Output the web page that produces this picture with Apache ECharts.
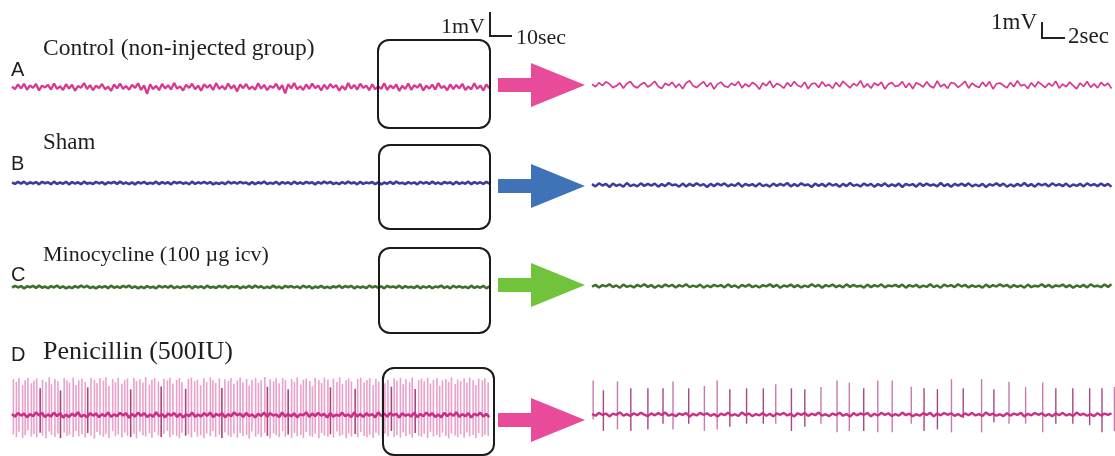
<!DOCTYPE html>
<html><head><meta charset="utf-8">
<script src="https://cdn.jsdelivr.net/npm/echarts@6/dist/echarts.min.js"></script>
<style>html,body{margin:0;padding:0;background:#fff}#c{width:1115px;height:456px}</style>
</head><body><div id="c"></div>
<script>
// ---------- DATA ----------
const panelLetters = ['A', 'B', 'C', 'D'];
const groupNames = ['Control (non-injected group)', 'Sham', 'Minocycline (100 µg icv)', 'Penicillin (500IU)'];
const leftScaleLabels = ['1mV', '10sec'];
const rightScaleLabels = ['1mV', '2sec'];
const leftSpanSec = 207, rightSpanSec = 45;      // time shown in each panel
const leftDtSec = 1.3, rightDtSec = 0.3;         // sample spacing of the typed traces

// amplitudes in µV
const ctrlLeft = [
20,-90,110,-60,140,-120,70,-40,130,-150,60,-20,90,-110,150,-80,30,-130,120,-70,
100,-160,40,-30,170,-90,80,-140,60,-50,130,-100,20,-170,110,-60,150,-80,40,-120,
90,-40,160,-130,70,-300,120,-90,50,-140,130,-60,80,-110,180,-70,30,-150,100,-40,
140,-100,60,-160,120,-30,90,-130,170,-80,40,-110,150,-60,70,-190,110,-50,130,-90,
20,-120,160,-70,90,-140,50,-40,140,-110,80,-280,120,-60,170,-100,30,-130,110,-80,
150,-50,60,-150,100,-90,130,-30,80,-160,40,-120,170,-70,90,-110,140,-40,60,-140,
120,-100,30,-80,160,-130,70,-60,110,-170,50,-90,150,-120,80,-30,130,-150,60,-70,
100,-110,170,-40,40,-140,120,-90,90,-60,140,-130,20,-100,160,-80,70,-150,110,-50];
const ctrlRight = [
55,-110,145,-35,200,70,-160,-55,125,-200,90,215,-70,-180,35,160,-125,20,235,-90,
-215,110,-35,180,-145,70,-235,125,270,-55,-160,35,200,-110,145,-250,55,180,-70,-145,
110,-35,215,-180,70,-110,160,20,-270,125,-55,250,-160,90,-20,-200,145,-90,215,-35,
-125,180,-235,70,110,-160,200,-70,35,-215,160,-110,235,20,-180,90,-55,270,-145,70,
-200,125,-35,180,-250,55,160,-90,-20,215,-160,110,-235,145,35,-125,200,-70,-180,250,
-110,55,-215,160,90,-145,20,235,-200,110,-55,-160,180,-90,215,-250,70,125,-35,-180,
160,-110,270,-55,35,-215,145,-125,200,20,-160,110,-70,235,-200,55,-110,180,-35,-235,
125,-90,215,-145,70,-180,160,-55,110,-215];
const shamLeft = [
20,-40,50,-30,60,-50,30,-20,40,-60,50,-10,30,-50,60,-40,20,-30,50,-60,
40,-20,30,-50,60,-30,10,-40,50,-20,40,-60,30,-10,50,-40,60,-30,20,-50,
30,-60,40,-20,50,-40,10,-30,60,-50,40,-20,30,-60,50,-10,40,-30,20,-50,
60,-40,30,-20,50,-30,40,-60,10,-40,30,-50,60,-20,40,-30,50,-10,20,-60,
40,-50,30,-20,60,-40,10,-30,50,-60,40,-20,30,-50,60,-30,20,-40,50,-10,
30,-60,40,-30,60,-20,50,-40,10,-50,40,-30,60,-20,30,-60,50,-40,20,-10,
40,-50,30,-60,20,-30,50,-40,60,-20,10,-50,40,-30,30,-60,50,-20,40,-40,
60,-30,20,-50,40,-10,30,-60,50,-40,20,-30,60,-50,40,-20,30,-40,50,-30];
const shamRight = [
55,-90,105,-35,70,-125,90,-55,35,-105,125,-70,20,-90,105,-55,70,-35,90,-105,
55,-70,125,-20,35,-105,90,-90,70,-55,105,-35,55,-125,70,-70,90,-20,105,-90,
35,-55,125,-105,70,-35,55,-90,105,-70,20,-105,90,-55,70,-35,125,-90,55,-70,
105,-20,35,-125,90,-55,70,-90,105,-35,55,-105,70,-70,125,-55,20,-90,90,-35,
70,-105,55,-55,105,-90,35,-70,90,-125,70,-20,55,-105,105,-55,90,-35,35,-90,
125,-70,55,-105,70,-35,90,-55,105,-90,20,-70,70,-125,55,-35,105,-55,90,-105,
35,-90,70,-55,125,-70,55,-105,90,-20,70,-90,105,-35,55,-70,
90,-105,35,-55,70,-90,105,-35,55,-70,90,-55,70,-105];
const minoLeft = [
-30,50,-20,40,-60,30,-10,50,-40,60,-30,20,-50,40,-20,60,-40,30,-60,10,
-50,40,-30,60,-20,50,-40,10,-60,30,-20,40,-50,60,-30,20,-40,50,-10,60,
-40,30,-60,20,-50,40,-30,10,-60,50,-20,40,-30,60,-50,20,-40,30,-10,50,
-60,40,-20,30,-50,60,-30,10,-40,50,-20,60,-50,30,-10,40,-60,20,-30,50,
-40,60,-20,30,-50,10,-40,60,-30,20,-60,50,-10,40,-30,30,-50,60,-20,40,
-60,20,-30,50,-40,10,-50,30,-20,60,-40,40,-10,50,-60,30,-30,20,-50,60,
-20,40,-40,30,-60,50,-10,20,-30,60,-50,40,-20,10,-40,50,-60,30,-30,40,
-50,20,-10,60,-40,30,-60,50,-20,40,-30,10,-50,60,-40,20,-30,50,-60,30];
const minoRight = [
-35,70,-90,55,-20,105,-70,35,-105,90,-55,20,-90,70,-35,105,-55,55,-105,35,
-70,90,-20,70,-90,55,-35,105,-70,20,-55,90,-105,35,-70,70,-20,55,-90,105,
-55,35,-105,70,-35,90,-70,20,-90,55,-20,105,-55,70,-105,35,-35,90,-70,55,
-90,20,-55,105,-35,70,-105,55,-20,90,-70,35,-90,105,-55,70,-35,20,-105,90,
-70,55,-35,105,-90,35,-20,70,-55,90,-105,55,-35,70,-90,20,-55,105,-70,35,
-105,90,-20,55,-70,105,-35,70,-90,35,-55,20,-105,90,-70,55,-35,105,-20,70,
-90,55,-55,35,-105,90,-70,20,-35,105,-55,70,-90,35,-20,90,
-70,55,-105,35,-55,70,-90,105,-35,20,-70,90,-55,105];
const penLeftBase = [
50,-80,100,-30,70,-110,40,-60,120,-20,90,-100,30,-70,110,-50,80,-120,20,-90,
60,-40,130,-80,10,-110,90,-30,70,-100,40,-60,120,-90,30,-50,100,-20,80,-130,
50,-70,110,-40,90,-100,20,-80,130,-60,40,-110,70,-30,100,-90,60,-120,30,-50,
110,-80,20,-70,90,-40,120,-100,50,-30,80,-110,40,-60,130,-20,70,-90,100,-50,
30,-120,60,-40,110,-80,90,-30,20,-100,120,-70,50,-60,80,-110,40,-20,130,-90,
70,-50,100,-30,60,-120,90,-80,20,-40,110,-60,30,-100,120,-70,50,-90,80,-30,
40,-110,130,-50,70,-80,100,-20,60,-120,90,-40,30,-70,110,-100,50,-60,120,-30,
80,-90,20,-110,100,-50,70,-40,130,-80,40,-60,90,-120,60,-20,110,-70,50,-100];
const penRightBase = [
40,-90,120,-30,70,-140,60,-20,150,-80,30,-110,90,-50,130,-10,-120,80,-60,100,
-40,140,-90,20,-130,70,-30,110,-150,50,-70,120,-20,90,-100,40,-140,60,-50,130,
-80,20,-110,150,-40,70,-120,30,-60,100,-90,50,-130,80,-20,120,-70,40,-140,90,
-30,110,-100,60,-50,140,-80,20,-120,70,-40,130,-90,30,-150,100,-60,80,-20,110,
-130,50,-70,120,-40,90,-110,30,-80,140,-50,60,-120,20,-90,100,-30,130,-140,70,
-60,110,-20,90,-100,40,-130,80,-50,120,-70,30,-110,150,-40,60,-90,20,-120,100,
-80,70,-30,130,-140,50,-60,110,-20,90,-100,40,-130,80,-50,120,
-70,30,-110,140,-40,60,-90,20,-120,100,-80,70,-30,90];

// penicillin spikes: time (s), peak (µV), trough (µV)
const penLeftSpikeT = [
0.6,1.9,3.0,4.6,5.7,6.9,8.4,9.5,10.7,12.2,13.2,14.7,16.1,17.1,18.6,19.9,21.0,22.6,23.8,24.9,
26.5,27.7,28.9,30.3,31.7,32.8,34.2,35.7,36.8,38.1,39.6,40.7,42.0,43.6,44.8,46.0,47.6,48.8,50.0,51.4,
52.8,53.9,55.4,56.7,57.9,59.5,60.6,61.8,63.4,64.6,65.8,67.3,68.4,69.7,71.3,72.5,73.6,75.2,76.4,77.7,
79.1,80.3,81.7,83.1,84.3,85.9,87.0,88.2,89.8,90.9,92.2,93.7,94.8,96.1,97.6,98.8,100.0,101.6,102.7,103.9,
105.5,106.7,107.9,109.5,110.6,111.8,113.3,114.4,115.7,117.2,118.4,119.6,121.1,122.3,123.5,125.1,126.2,127.4,129.0,130.1,
131.3,132.9,134.1,135.3,136.8,137.9,139.2,140.7,141.9,143.1,144.7,145.8,147.0,148.6,149.7,151.0,152.5,153.7,154.9,156.4,
157.6,158.8,160.4,161.5,162.8,164.3,165.5,166.7,168.2,169.4,170.6,172.2,173.3,174.6,176.1,177.3,178.5,180.0,181.2,182.5,
184.0,185.2,186.4,187.9,189.1,190.3,191.9,193.0,194.3,195.8,197.0,198.2,199.7,200.9,202.1,203.7,204.8,206.2];
const penLeftSpikeUp = [
1750,1620,1800,1450,1700,1820,1550,1680,1790,1300,1720,1610,1840,1500,1760,1650,1200,1800,1700,1580,
1830,1460,1690,1770,1620,1350,1810,1720,1560,1790,1680,1840,1410,1750,1600,1820,1530,1700,1780,1250,
1810,1660,1740,1590,1850,1480,1720,1800,1630,1390,1770,1690,1820,1540,1710,1800,1600,1280,1760,1830,
1650,1720,1450,1790,1610,1840,1700,1560,1780,1320,1740,1670,1810,1520,1690,1830,1600,1760,1430,1720,
1800,1580,1690,1850,1370,1740,1640,1790,1550,1810,1700,1260,1760,1620,1830,1490,1720,1780,1660,1400,
1800,1690,1570,1820,1730,1350,1770,1610,1840,1520,1700,1790,1640,1280,1750,1820,1590,1710,1800,1460,
1760,1630,1840,1550,1720,1380,1790,1680,1810,1500,1740,1600,1830,1270,1700,1780,1650,1820,1540,1720,
1800,1430,1690,1760,1620,1840,1510,1730,1650,1790,1580,1820,1700,1460,1770,1690,1810,1600];
const penLeftSpikeDown = [
-950,-1080,-820,-1120,-990,-760,-1050,-930,-1100,-870,-1010,-1140,-800,-980,-1070,-900,-1130,-850,-1020,-960,
-1090,-780,-1040,-940,-1110,-880,-1000,-1150,-830,-970,-1060,-910,-1120,-790,-1030,-950,-1100,-860,-1010,-1080,
-920,-1140,-810,-990,-1050,-890,-1120,-840,-1000,-1070,-930,-770,-1090,-960,-1030,-1130,-870,-1010,-950,-1100,
-820,-1060,-990,-1140,-900,-1040,-780,-1080,-960,-1120,-850,-1000,-1070,-920,-1110,-880,-1030,-970,-1150,-810,
-1050,-940,-1090,-860,-1020,-1130,-900,-990,-1080,-790,-1060,-950,-1110,-870,-1040,-980,-1120,-830,-1010,-1070,
-920,-1140,-880,-1000,-1060,-940,-1100,-800,-1030,-970,-1130,-890,-1050,-930,-1090,-840,-1020,-1080,-960,-1120,
-870,-1000,-1150,-910,-1040,-780,-1070,-990,-1110,-850,-1030,-950,-1100,-880,-1010,-1060,-920,-1130,-820,-1050,
-970,-1090,-860,-1020,-1140,-900,-1000,-1080,-930,-1110,-850,-1040,-980,-1120,-890,-1060,-960,-1010];
const penRightSpikeT = [0.1,0.98,2.19,3.34,4.81,6.11,6.97,8.32,9.67,10.77,11.86,13.30,14.74,15.81,17.16,18.31,19.70,21.08,22.14,23.38,
24.59,25.83,27.47,28.57,29.72,30.93,31.94,33.52,34.58,35.88,37.31,38.78,39.91,41.37,42.82,43.88,44.95];
const penRightSpikeUp = [2460,1750,2390,1890,1890,1890,2390,1890,2060,2460,1830,1890,1890,2190,1890,1830,1980,2460,2310,1890,
2460,2460,2000,1890,1830,2560,1890,2560,1830,2360,1980,2310,1890,1890,1890,1890,1980];
const penRightSpikeDown = [-360,-1190,-1080,-1190,-1080,-670,-1080,-670,-1190,-1080,-880,-670,-670,-670,-1190,-880,-670,-1290,-1190,-1190,
-1290,-1290,-670,-1190,-1080,-1290,-250,-1290,-560,-670,-670,-1290,-670,-670,-770,-1290,-1190];

// ---------- LAYOUT / STYLE ----------
const leftRowsY = [87, 183, 287, 420];
const rightRowsY = [85, 185, 286, 421];
const traceColors = ['#d8398f', '#3d3c9c', '#3f6f2c', '#c92f84'];
const leftWidths = [2.3, 2.6, 2.6, 2.6];
const rightWidths = [1.7, 2.5, 2.5, 2.4];
const arrowColors = ['#e94b9b', '#3f72b6', '#71c33b', '#e94b9b'];
const arrowY = [85, 186, 285, 420];
const boxes = [[378, 40, 112, 88], [379, 145, 111, 84], [379, 248, 111, 85], [383, 368, 111, 87]];
const nameY = [49, 143, 255, 352];
const nameSize = [23.5, 23, 22, 26];
const letterY = [70, 164, 275, 355];

const leftTraces = [ctrlLeft, shamLeft, minoLeft, penLeftBase];
const rightTraces = [ctrlRight, shamRight, minoRight, penRightBase];

const grid = [], xAxis = [], yAxis = [], series = [];
for (let r = 0; r < 4; r++) {
  grid.push({left: 12, width: 478, top: leftRowsY[r] - 46, height: 92});
  xAxis.push({gridIndex: 2 * r, type: 'value', min: 0, max: leftSpanSec, show: false});
  yAxis.push({gridIndex: 2 * r, type: 'value', min: -2000, max: 2000, show: false});
  grid.push({left: 592, width: 523, top: rightRowsY[r] - 48, height: 96});
  xAxis.push({gridIndex: 2 * r + 1, type: 'value', min: 0, max: rightSpanSec, show: false});
  yAxis.push({gridIndex: 2 * r + 1, type: 'value', min: -3000, max: 3000, show: false});
}
function spikeSeries(axisIdx, times, ups, downs, colorFn, width) {
  return {
    type: 'custom', xAxisIndex: axisIdx, yAxisIndex: axisIdx, silent: true,
    encode: {x: 0, y: [1, 2]},
    data: times.map((t, i) => [t, ups[i], downs[i]]),
    renderItem: function (params, api) {
      const a = api.coord([api.value(0), api.value(1)]);
      const b = api.coord([api.value(0), api.value(2)]);
      return {type: 'line', shape: {x1: a[0], y1: a[1], x2: b[0], y2: b[1]},
        style: {stroke: colorFn(api.value(1)), lineWidth: width}};
    },
    z: 2
  };
}
series.push(spikeSeries(6, penLeftSpikeT, penLeftSpikeUp, penLeftSpikeDown,
  v => v < 1400 ? '#a8437f' : '#e9a0cb', 1.6));
series.push(spikeSeries(7, penRightSpikeT, penRightSpikeUp, penRightSpikeDown,
  v => v < 1900 ? '#a6477f' : '#c97aaa', 1.4));
for (let r = 0; r < 4; r++) {
  series.push({type: 'line', xAxisIndex: 2 * r, yAxisIndex: 2 * r, showSymbol: false, silent: true,
    data: leftTraces[r].map((v, i) => [i * leftDtSec, v]),
    lineStyle: {color: traceColors[r], width: leftWidths[r]}, z: 3});
  series.push({type: 'line', xAxisIndex: 2 * r + 1, yAxisIndex: 2 * r + 1, showSymbol: false, silent: true,
    data: rightTraces[r].map((v, i) => [i * rightDtSec, v]),
    lineStyle: {color: traceColors[r], width: rightWidths[r]}, z: 3});
}

const serif = '"Liberation Serif", "Times New Roman", serif';
const sans = '"Liberation Sans", Arial, sans-serif';
const elements = [];
for (let r = 0; r < 4; r++) {
  const cy = arrowY[r];
  elements.push({type: 'polygon', shape: {points: [[498, cy - 7], [531, cy - 7], [531, cy - 22], [585, cy], [531, cy + 22], [531, cy + 7], [498, cy + 7]]},
    style: {fill: arrowColors[r]}, z: 1});
  const b = boxes[r];
  elements.push({type: 'rect', shape: {x: b[0], y: b[1], width: b[2], height: b[3], r: 11},
    style: {fill: 'none', stroke: '#1b1b1b', lineWidth: 2}, z: 10});
  elements.push({type: 'text', x: 43, y: nameY[r], style: {text: groupNames[r], font: nameSize[r] + 'px ' + serif, fill: '#1e1e1e', textVerticalAlign: 'middle'}, z: 10});
  elements.push({type: 'text', x: 11, y: letterY[r], style: {text: panelLetters[r], font: '20px ' + sans, fill: '#1e1e1e', textVerticalAlign: 'middle'}, z: 10});
}
// scale bars
elements.push({type: 'polyline', shape: {points: [[490, 12], [490, 36], [512, 36]]}, style: {stroke: '#222', lineWidth: 2, fill: 'none'}, z: 10});
elements.push({type: 'text', x: 485, y: 27, style: {text: leftScaleLabels[0], font: '22px ' + serif, fill: '#1e1e1e', textAlign: 'right', textVerticalAlign: 'middle'}, z: 10});
elements.push({type: 'text', x: 516, y: 38, style: {text: leftScaleLabels[1], font: '22px ' + serif, fill: '#1e1e1e', textVerticalAlign: 'middle'}, z: 10});
elements.push({type: 'polyline', shape: {points: [[1042, 22], [1042, 38], [1065, 38]]}, style: {stroke: '#222', lineWidth: 2, fill: 'none'}, z: 10});
elements.push({type: 'text', x: 1037, y: 23, style: {text: rightScaleLabels[0], font: '23px ' + serif, fill: '#1e1e1e', textAlign: 'right', textVerticalAlign: 'middle'}, z: 10});
elements.push({type: 'text', x: 1068, y: 37, style: {text: rightScaleLabels[1], font: '23px ' + serif, fill: '#1e1e1e', textVerticalAlign: 'middle'}, z: 10});

const chart = echarts.init(document.getElementById('c'), null, {renderer: 'canvas'});
chart.setOption({animation: false, backgroundColor: '#fff', grid, xAxis, yAxis, series, graphic: {elements}});
</script></body></html>
